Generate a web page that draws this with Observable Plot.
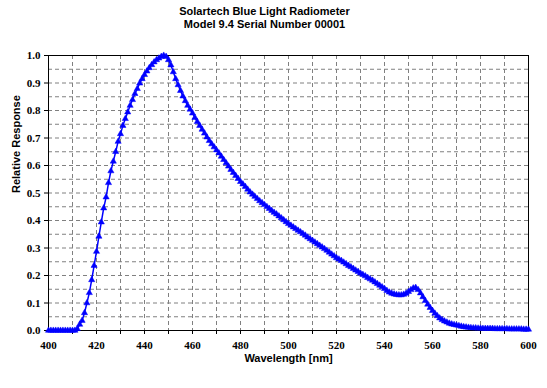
<!DOCTYPE html>
<html>
<head>
<meta charset="utf-8">
<script src="https://cdn.jsdelivr.net/npm/d3@7"></script>
<script src="https://cdn.jsdelivr.net/npm/@observablehq/plot@0.6"></script>
<style>
  html, body { margin: 0; padding: 0; background: #fff; }
  #title { width: 529px; height: 40px; box-sizing: border-box; padding-top: 5px;
           text-align: center; font: bold 11px "Liberation Sans", Arial, sans-serif; line-height: 13px; color: #000; }
  #chart svg { display: block; }
</style>
</head>
<body>
<div id="title"></div>
<div id="chart"></div>
<script>
// ---- data ----
const titleLines = ["Solartech Blue Light Radiometer", "Model 9.4 Serial Number 00001"];
const xLabel = "Wavelength [nm]";
const yLabel = "Relative Response";
// sampling wavelengths, 1 nm steps
const wavelengths = d3.range(400, 601);
// relative response at each wavelength
const response = [
  0,0,0,0,0,0,0,0,0,0,                                               // 400-409
  0,0,0.006,0.022,0.036,0.064,0.100,0.137,0.184,0.236,               // 410-419
  0.287,0.342,0.394,0.445,0.485,0.537,0.580,0.615,0.650,0.687,       // 420-429
  0.715,0.745,0.770,0.794,0.818,0.839,0.861,0.879,0.899,0.915,       // 430-439
  0.930,0.943,0.955,0.966,0.976,0.984,0.990,0.996,1.000,0.996,       // 440-449
  0.984,0.965,0.940,0.915,0.893,0.872,0.852,0.835,0.818,0.804,       // 450-459
  0.790,0.774,0.759,0.745,0.731,0.717,0.703,0.690,0.678,0.667,       // 460-469
  0.656,0.645,0.633,0.621,0.609,0.597,0.585,0.574,0.563,0.552,       // 470-479
  0.541,0.532,0.523,0.513,0.503,0.495,0.487,0.479,0.471,0.464,       // 480-489
  0.457,0.450,0.443,0.436,0.429,0.423,0.416,0.409,0.402,0.395,       // 490-499
  0.388,0.382,0.376,0.370,0.364,0.358,0.352,0.346,0.339,0.333,       // 500-509
  0.327,0.321,0.315,0.309,0.303,0.297,0.291,0.284,0.277,0.271,       // 510-519
  0.264,0.259,0.254,0.248,0.242,0.236,0.231,0.225,0.219,0.214,       // 520-529
  0.208,0.203,0.198,0.192,0.187,0.182,0.176,0.170,0.164,0.158,       // 530-539
  0.152,0.145,0.139,0.135,0.132,0.130,0.129,0.129,0.131,0.135,       // 540-549
  0.141,0.148,0.154,0.156,0.148,0.136,0.122,0.108,0.095,0.083,       // 550-559
  0.072,0.062,0.053,0.045,0.039,0.034,0.030,0.026,0.023,0.021,       // 560-569
  0.019,0.017,0.015,0.013,0.012,0.011,0.010,0.009,0.009,0.008,       // 570-579
  0.008,0.007,0.007,0.007,0.007,0.007,0.006,0.006,0.006,0.006,       // 580-589
  0.006,0.006,0.005,0.005,0.005,0.005,0.005,0.005,0.004,0.004,       // 590-599
  0.004                                                              // 600
];
const xTicks = [400, 420, 440, 460, 480, 500, 520, 540, 560, 580, 600];
const xMinorTicks = [410, 420, 430, 440, 450, 460, 470, 480, 490, 500, 510, 520, 530, 540, 550, 560, 570, 580, 590];
const yTicks = [0, 0.1, 0.2, 0.3, 0.4, 0.5, 0.6, 0.7, 0.8, 0.9, 1.0];
const yGrid = [0.05, 0.1, 0.15, 0.2, 0.25, 0.3, 0.35, 0.4, 0.45, 0.5, 0.55, 0.6, 0.65, 0.7, 0.75, 0.8, 0.85, 0.9, 0.95];

document.getElementById("title").innerHTML = titleLines.join("<br>");

const data = wavelengths.map((w, i) => ({w, r: response[i]}));

const blue = "#0000ff";
const serif = "'Liberation Serif', 'Times New Roman', serif";
const sans = "'Liberation Sans', Arial, sans-serif";
const gridStyle = {stroke: "#808080", strokeOpacity: 1, strokeWidth: 1, strokeDasharray: "4,3"};

const chart = Plot.plot({
  width: 547,
  height: 348,
  marginTop: 15,
  marginLeft: 48,
  marginRight: 19,
  marginBottom: 58,
  style: {fontFamily: serif, fontSize: "11px", fontWeight: "bold", color: "#000", background: "#fff"},
  x: {domain: [400, 600]},
  y: {domain: [0, 1]},
  marks: [
    Plot.gridX(xMinorTicks, gridStyle),
    Plot.gridY(yGrid, gridStyle),
    Plot.axisX({ticks: xMinorTicks, tickSize: 4, text: null, label: null, stroke: "#000", strokeOpacity: 1}),
    Plot.axisX({ticks: xTicks, tickSize: 0, tickPadding: 11, tickFormat: d => String(d), label: null,
                fontFamily: serif, fontWeight: "bold", fontSize: 11, fill: "#000"}),
    Plot.axisY({ticks: yTicks, tickSize: 4, tickPadding: 4, tickFormat: d3.format(".1f"), label: null,
                fontFamily: serif, fontWeight: "bold", fontSize: 11, fill: "#000", stroke: "#000", strokeOpacity: 1}),
    Plot.frame({stroke: "#000", strokeWidth: 1}),
    Plot.line(data, {x: "w", y: "r", stroke: blue, strokeWidth: 1.5}),
    Plot.dot(data, {x: "w", y: "r", symbol: "triangle", r: 2.3, fill: blue, stroke: blue, strokeWidth: 0.5}),
    Plot.text([xLabel], {frameAnchor: "bottom", dy: 31, fontFamily: sans, fontWeight: "bold", fontSize: 11, fill: "#000"}),
    Plot.text([yLabel], {frameAnchor: "left", dx: -32, rotate: -90, fontFamily: sans, fontWeight: "bold", fontSize: 11, fill: "#000"})
  ]
});
document.getElementById("chart").appendChild(chart);
</script>
</body>
</html>
